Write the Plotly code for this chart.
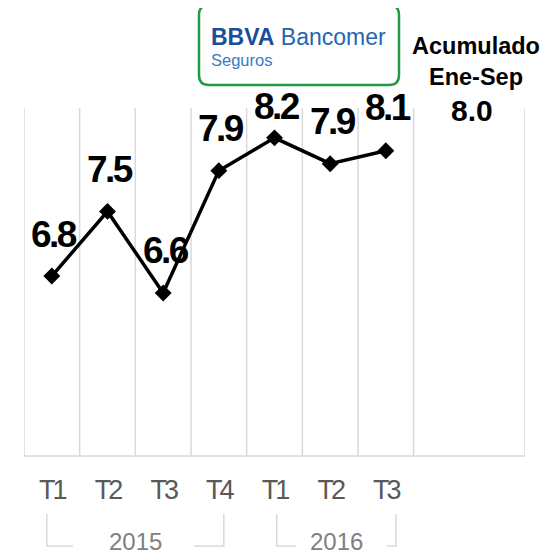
import plotly.graph_objects as go

# ---- data ----
quarters = ["T1", "T2", "T3", "T4", "T1", "T2", "T3"]
values = [6.81, 7.46, 6.64, 7.87, 8.20, 7.94, 8.07]
value_labels = ["6.8", "7.5", "6.6", "7.9", "8.2", "7.9", "8.1"]
years = ["2015", "2016"]
acum_title = "Acumulado<br>Ene-Sep"
acum_value = "8.0"

# ---- layout constants (reference pixel positions; page body adds an 8px offset) ----
OFF = 8
W, H = 556 - OFF, 555 - OFF
PL, PR, PT, PB = 24, 525, 108, 456          # plot area in reference pixels
ML, MR, MT, MB = PL - OFF, W - (PR - OFF), PT - OFF, H - (PB - OFF)
PW, PH = PR - PL, PB - PT
XMAX = 9.0
Y0, Y1 = 5.0, 8.5
GRID = "#d9d9d9"
FONT = "Liberation Sans, Arial, sans-serif"

def px2paper_x(px):
    return (px - PL) / PW

def px2paper_y(py):
    return (PB - py) / PH

xs = [i + 0.5 for i in range(len(quarters))]
boundaries = list(range(len(quarters) + 1)) + [XMAX]

fig = go.Figure()
fig.add_trace(go.Scatter(
    x=xs, y=values, mode="lines+markers",
    line=dict(color="black", width=3.5),
    marker=dict(symbol="diamond", size=13, color="black"),
    hoverinfo="skip", showlegend=False,
))

shapes = []
for b in boundaries:
    shapes.append(dict(type="line", xref="x", yref="paper", x0=b, x1=b, y0=0, y1=1,
                       line=dict(color=GRID, width=1.5), layer="below"))
shapes.append(dict(type="line", xref="x", yref="paper", x0=0, x1=XMAX, y0=0, y1=0,
                   line=dict(color=GRID, width=1.5), layer="below"))

# year brackets (left start, left arm end, right arm start, right end) in x units
brackets = [(0.41, 0.88, 3.05, 3.59), (4.54, 4.89, 6.52, 6.68)]
year_x = [2.0, 5.61]
yb_top = px2paper_y(514)
yb_bot = px2paper_y(546)
for (a, b, c, d) in brackets:
    shapes.append(dict(type="path", xref="x", yref="paper",
                       path=f"M {a},{yb_top} L {a},{yb_bot} L {b},{yb_bot}",
                       line=dict(color=GRID, width=1.5)))
    shapes.append(dict(type="path", xref="x", yref="paper",
                       path=f"M {c},{yb_bot} L {d},{yb_bot} L {d},{yb_top}",
                       line=dict(color=GRID, width=1.5)))

# logo rounded rectangle
lx0, lx1, ly0, ly1, r = 199, 399, 5, 85, 10
def P(px, py):
    return f"{px2paper_x(px)},{px2paper_y(py)}"
logo_path = (f"M {P(lx0+r, ly0)} L {P(lx1-r, ly0)} Q {P(lx1, ly0)} {P(lx1, ly0+r)} "
             f"L {P(lx1, ly1-r)} Q {P(lx1, ly1)} {P(lx1-r, ly1)} "
             f"L {P(lx0+r, ly1)} Q {P(lx0, ly1)} {P(lx0, ly1-r)} "
             f"L {P(lx0, ly0+r)} Q {P(lx0, ly0)} {P(lx0+r, ly0)} Z")
shapes.append(dict(type="path", xref="paper", yref="paper", path=logo_path,
                   line=dict(color="#1f9a48", width=2.5), fillcolor="white"))

annotations = []
label_shift = [42, 42, 42, 42, 31, 42, 43]
for x, v, t, s in zip(xs, values, value_labels, label_shift):
    annotations.append(dict(x=x, y=v, xref="x", yref="y",
                            text=f"<span style='letter-spacing:-2.5px'>{t}</span>",
                            showarrow=False, xanchor="center", yanchor="middle",
                            yshift=s, xshift=2.5,
                            font=dict(family=FONT, size=37, color="black", weight="bold")))
for yr, x in zip(years, year_x):
    annotations.append(dict(x=x, y=px2paper_y(541), xref="x", yref="paper", text=yr,
                            showarrow=False, xanchor="center", yanchor="middle",
                            font=dict(family=FONT, size=24, color="#808080")))
annotations.append(dict(x=px2paper_x(476), y=px2paper_y(61), xref="paper", yref="paper",
                        text=acum_title, showarrow=False, xanchor="center", yanchor="middle",
                        font=dict(family=FONT, size=23.5, color="black", weight="bold")))
annotations.append(dict(x=px2paper_x(472), y=px2paper_y(110), xref="paper", yref="paper",
                        text=acum_value, showarrow=False, xanchor="center", yanchor="middle",
                        font=dict(family=FONT, size=30, color="black", weight="bold")))
annotations.append(dict(x=px2paper_x(209), y=px2paper_y(37), xref="paper", yref="paper",
                        xanchor="left", yanchor="middle", showarrow=False,
                        text="<span style='color:#1a4e9a'><b>BBVA</b></span> <span style='color:#2466ae'>Bancomer</span>",
                        font=dict(family=FONT, size=23)))
annotations.append(dict(x=px2paper_x(209), y=px2paper_y(60), xref="paper", yref="paper",
                        xanchor="left", yanchor="middle", showarrow=False,
                        text="Seguros",
                        font=dict(family=FONT, size=16.5, color="#3a7bc0")))

tick_text = [f"<span style='letter-spacing:-3px'>{q}</span>" for q in quarters]

fig.update_layout(
    width=W, height=H,
    margin=dict(l=ML, r=MR, t=MT, b=MB, pad=0),
    paper_bgcolor="white", plot_bgcolor="white",
    shapes=shapes, annotations=annotations,
    xaxis=dict(range=[0, XMAX], tickmode="array", tickvals=xs, ticktext=tick_text,
               showgrid=False, zeroline=False, showline=False, ticks="",
               ticklabelstandoff=15,
               tickfont=dict(family=FONT, size=27, color="#595959"),
               fixedrange=True),
    yaxis=dict(range=[Y0, Y1], showgrid=False, zeroline=False, showline=False,
               showticklabels=False, ticks="", fixedrange=True),
)

fig.write_html("out.html", config=dict(displayModeBar=False))
